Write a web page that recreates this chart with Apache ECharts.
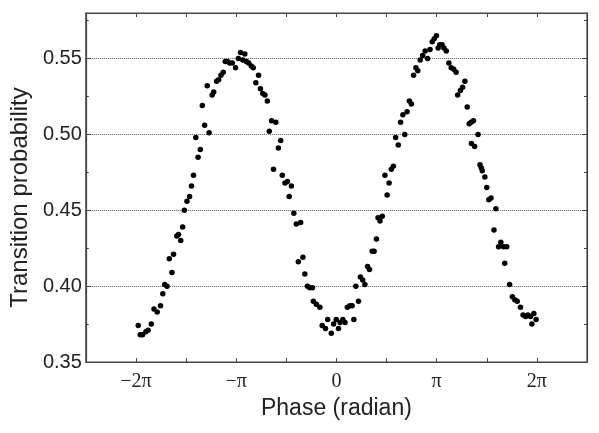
<!DOCTYPE html>
<html>
<head>
<meta charset="utf-8">
<script src="https://cdn.jsdelivr.net/npm/echarts@6/dist/echarts.min.js"></script>
<style>
  html, body { margin: 0; padding: 0; background: #fff; }
  #chart { width: 599px; height: 433px; }
</style>
</head>
<body>
<div id="chart"></div>
<script>
// phase in units of pi
const phasePi = [
  -1.977, -1.957, -1.934, -1.901, -1.879, -1.847, -1.820, -1.788, -1.755, -1.732,
  -1.713, -1.690, -1.667, -1.641, -1.625, -1.592, -1.576, -1.553, -1.534, -1.517,
  -1.491, -1.465, -1.446, -1.426, -1.403, -1.380, -1.358, -1.338, -1.315, -1.289,
  -1.270, -1.240, -1.224, -1.195,
  -1.175, -1.152, -1.129, -1.109, -1.087, -1.065, -1.038, -1.006, -0.979, -0.957,
  -0.934, -0.914, -0.898, -0.875, -0.849, -0.830, -0.804, -0.777, -0.758, -0.735,
  -0.713, -0.689, -0.670, -0.647, -0.628, -0.605, -0.579, -0.556, -0.540, -0.513,
  -0.489, -0.471, -0.449, -0.425, -0.400, -0.380, -0.357, -0.334, -0.315,
  -0.288, -0.266, -0.239, -0.230, -0.200, -0.165, -0.142, -0.109, -0.087, -0.051,
  -0.028, -0.002, 0.021, 0.037, 0.064, 0.086, 0.109, 0.135, 0.157, 0.174,
  0.194, 0.220, 0.239, 0.262, 0.284, 0.311, 0.330, 0.357, 0.376, 0.399,
  0.415, 0.435, 0.457, 0.484, 0.506, 0.526, 0.548, 0.568,
  0.591, 0.617, 0.640, 0.663, 0.682, 0.705, 0.728, 0.748, 0.770, 0.793,
  0.812, 0.836, 0.861, 0.885, 0.910, 0.934, 0.956, 0.976, 0.998, 1.015,
  1.031, 1.054, 1.073, 1.096, 1.122, 1.145, 1.171, 1.194, 1.210, 1.237,
  1.259, 1.282, 1.305, 1.325, 1.344, 1.347, 1.367, 1.379, 1.413, 1.432,
  1.445,
  1.455, 1.481, 1.500, 1.520, 1.543, 1.572, 1.591, 1.618, 1.640, 1.667,
  1.679, 1.699, 1.728, 1.755, 1.780, 1.804, 1.836, 1.862, 1.888, 1.911,
  1.936, 1.950, 1.970, 1.992
];

const probability = [
  0.374, 0.368, 0.368, 0.370, 0.371, 0.375, 0.385, 0.383, 0.387, 0.395,
  0.401, 0.400, 0.418, 0.409, 0.421, 0.433, 0.434, 0.430, 0.439, 0.450,
  0.456, 0.459, 0.466, 0.473, 0.498, 0.485, 0.490, 0.519, 0.506, 0.532,
  0.501, 0.526, 0.528, 0.535,
  0.536, 0.539, 0.541, 0.548, 0.548, 0.547, 0.547, 0.544, 0.550, 0.554,
  0.549, 0.553, 0.548, 0.547, 0.545, 0.544, 0.534, 0.539, 0.530, 0.527,
  0.526, 0.522, 0.502, 0.509, 0.477, 0.508, 0.491, 0.496, 0.473, 0.468,
  0.469, 0.459, 0.466, 0.448, 0.441, 0.416, 0.442, 0.419, 0.408,
  0.400, 0.399, 0.399, 0.390, 0.388, 0.386, 0.374, 0.372, 0.378, 0.369,
  0.375, 0.378, 0.372, 0.376, 0.378, 0.376, 0.386, 0.387, 0.387, 0.378,
  0.400, 0.390, 0.406, 0.404, 0.401, 0.413, 0.411, 0.423, 0.423, 0.431,
  0.445, 0.443, 0.446, 0.473, 0.460, 0.468, 0.477, 0.479,
  0.498, 0.493, 0.508, 0.513, 0.500, 0.515, 0.522, 0.520, 0.539, 0.544,
  0.542, 0.549, 0.552, 0.555, 0.550, 0.556, 0.561, 0.563, 0.565, 0.557,
  0.559, 0.559, 0.557, 0.555, 0.547, 0.544, 0.543, 0.541, 0.526, 0.529,
  0.531, 0.535, 0.518, 0.507, 0.508, 0.494, 0.509, 0.492, 0.500, 0.480,
  0.478,
  0.476, 0.472, 0.465, 0.457, 0.458, 0.437, 0.451, 0.426, 0.429, 0.426,
  0.415, 0.426, 0.401, 0.393, 0.391, 0.390, 0.386, 0.381, 0.380, 0.381,
  0.380, 0.375, 0.382, 0.378
];

const xTickValues = [-2, -1, 0, 1, 2];
const xTickLabels = ['\u22122\u03c0', '\u2212\u03c0', '0', '\u03c0', '2\u03c0'];

const frameColor = '#444';
const sans = '"Liberation Sans", Arial, sans-serif';
const serif = '"Liberation Serif", "Times New Roman", serif';

const chart = echarts.init(document.getElementById('chart'));

const xBase = {
  type: 'value',
  min: -2.5,
  max: 2.5,
  interval: 0.5,
  splitLine: { show: false },
  axisLine: { show: true, onZero: false, lineStyle: { color: frameColor, width: 1.2 } },
  axisTick: { show: true, inside: true, length: 4, lineStyle: { color: frameColor } }
};

const yBase = {
  type: 'value',
  min: 0.35,
  max: 0.58,
  interval: 0.05,
  axisLine: { show: true, onZero: false, lineStyle: { color: frameColor, width: 1.2 } },
  axisTick: { show: true, inside: true, length: 5, lineStyle: { color: frameColor } },
  minorTick: { show: true, splitNumber: 2, length: 3, lineStyle: { color: frameColor } }
};

const option = {
  animation: false,
  grid: {
    left: 75, right: 12, top: 13, bottom: 71,
    show: true, borderColor: frameColor, borderWidth: 1.2
  },
  xAxis: [
    Object.assign({}, xBase, {
      position: 'bottom',
      name: 'Phase (radian)',
      nameLocation: 'middle',
      nameGap: 35,
      nameTextStyle: { fontFamily: sans, fontSize: 23, color: '#222' },
      axisLabel: {
        margin: 10,
        fontFamily: serif,
        fontSize: 20,
        color: '#222',
        formatter: function (v) {
          const i = xTickValues.indexOf(Math.round(v * 2) / 2);
          return i >= 0 ? xTickLabels[i] : '';
        }
      }
    }),
    Object.assign({}, xBase, {
      position: 'top',
      axisLabel: { show: false }
    })
  ],
  yAxis: [
    Object.assign({}, yBase, {
      position: 'left',
      name: 'Transition probability',
      nameLocation: 'middle',
      nameRotate: 90,
      nameGap: 52,
      nameTextStyle: { fontFamily: sans, fontSize: 24, color: '#222', padding: [0, 20, 0, 0] },
      splitLine: { show: true, lineStyle: { color: '#555', type: 'dotted', width: 1 } },
      axisLabel: {
        margin: 4,
        fontFamily: sans,
        fontSize: 20,
        color: '#222',
        showMaxLabel: false,
        formatter: function (v) { return v.toFixed(2); }
      }
    }),
    Object.assign({}, yBase, {
      position: 'right',
      splitLine: { show: false },
      axisLabel: { show: false }
    })
  ],
  series: [
    {
      type: 'scatter',
      xAxisIndex: 0,
      yAxisIndex: 0,
      symbol: 'circle',
      symbolSize: 5.5,
      itemStyle: { color: '#000', opacity: 1 },
      data: phasePi.map((p, i) => [p, probability[i]])
    }
  ]
};

chart.setOption(option);
window.addEventListener('resize', chart.resize);
</script>
</body>
</html>
